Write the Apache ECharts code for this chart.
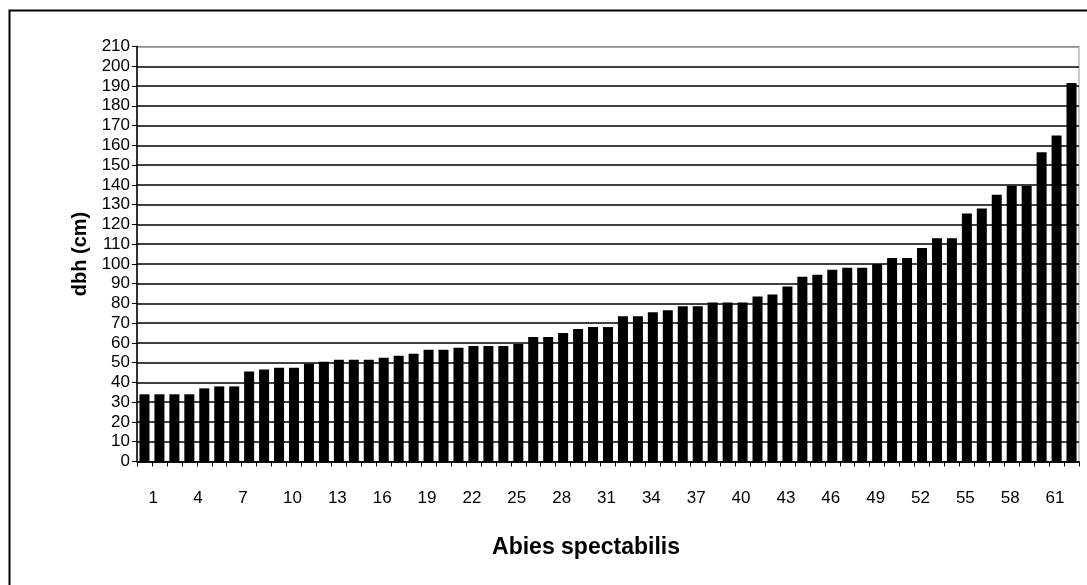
<!DOCTYPE html>
<html>
<head>
<meta charset="utf-8">
<script src="https://cdn.jsdelivr.net/npm/echarts@6/dist/echarts.min.js"></script>
<style>
html,body{margin:0;padding:0;background:#fff;}
#chart{width:1087px;height:585px;}
</style>
</head>
<body>
<div id="chart"></div>
<script>
var categories = ["1","2","3","4","5","6","7","8","9","10","11","12","13","14","15","16","17","18","19","20","21","22","23","24","25","26","27","28","29","30","31","32","33","34","35","36","37","38","39","40","41","42","43","44","45","46","47","48","49","50","51","52","53","54","55","56","57","58","59","60","61","62","63"];
var dbh = [34,34,34,34,37,38,38,45.5,46.5,47.5,47.5,49.5,50.5,51.5,51.5,51.5,52.5,53.5,54.5,56.5,56.5,57.5,58.5,58.5,58.5,59.5,63,63,65,67,68,68,73.5,73.5,75.5,76.5,78.5,78.5,80.5,80.5,80.5,83.5,84.5,88.5,93.5,94.5,97,98,98,100,103,103,108,113,113,125.5,128,135,139.5,139.5,156.5,165,191.5];
var yAxisTitle = "dbh (cm)";
var xAxisTitle = "Abies spectabilis";

var splitColors = [];
for (var i = 0; i < 22; i++) splitColors.push(i === 21 ? '#8a8a8a' : '#000');

var chart = echarts.init(document.getElementById('chart'));
chart.setOption({
  animation: false,
  backgroundColor: '#fff',
  textStyle: {fontFamily: 'Liberation Sans, Arial, sans-serif'},
  graphic: [{
    type: 'rect', left: 7, top: 8, silent: true,
    shape: {x: 0, y: 0, width: 1100, height: 600},
    style: {fill: 'none', stroke: '#000', lineWidth: 2}
  }],
  grid: {left: 137, right: 8, top: 46.5, bottom: 123.5, show: true, borderColor: '#999', borderWidth: 1, backgroundColor: '#fff'},
  xAxis: {
    type: 'category',
    data: categories,
    name: xAxisTitle,
    nameLocation: 'middle',
    nameGap: 75,
    nameTextStyle: {fontSize: 23, fontWeight: 'bold', color: '#000', padding: [0, 44, 0, 0]},
    axisLine: {lineStyle: {color: '#000', width: 1.5}},
    axisTick: {show: true, interval: 0, length: 5, lineStyle: {color: '#000', width: 1}},
    axisLabel: {interval: 2, fontSize: 17, color: '#000', margin: 28, align: 'left', padding: [0, 0, 0, 4]},
    splitLine: {show: false}
  },
  yAxis: {
    type: 'value',
    min: 0, max: 210, interval: 10,
    name: yAxisTitle,
    nameLocation: 'middle',
    nameGap: 29,
    nameRotate: 90,
    nameTextStyle: {fontSize: 20, fontWeight: 'bold', color: '#000'},
    axisLine: {show: true, lineStyle: {color: '#000', width: 1.5}},
    axisTick: {show: true, length: 5, lineStyle: {color: '#000', width: 1}},
    axisLabel: {fontSize: 17, color: '#000', margin: 7},
    splitLine: {show: true, lineStyle: {color: splitColors, width: 1.5}}
  },
  series: [{
    type: 'bar',
    data: dbh,
    barCategoryGap: '33%',
    itemStyle: {color: '#000'}
  }]
});
</script>
</body>
</html>
